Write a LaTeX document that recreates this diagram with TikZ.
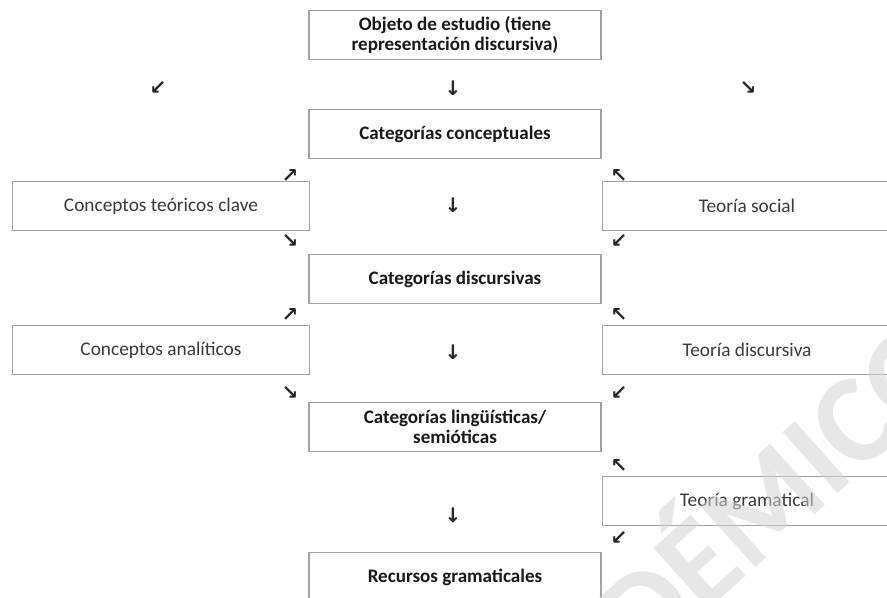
\documentclass[tikz,border=0pt]{standalone}
\usepackage{fontspec}
\setmainfont{Carlito}
\newfontfamily\arrowfont{DejaVu Sans}
\definecolor{boxgray}{HTML}{A3A3A3}
\definecolor{inkgray}{HTML}{3A3A3A}
\definecolor{markgray}{HTML}{D4D4D4}

\begin{document}
\begin{tikzpicture}[x=0.75pt,y=-0.75pt,
  centre/.style={draw=boxgray, line width=1.1pt, fill=white,
    minimum width=219pt, minimum height=37pt, inner sep=0pt,
    align=center, text=black!90,
    font=\bfseries\fontsize{14.3}{15.5}\selectfont},
  side/.style={draw=boxgray, line width=1.1pt, fill=white,
    minimum width=223pt, minimum height=37pt, inner sep=0pt,
    text=inkgray, font=\fontsize{14.5}{15.5}\selectfont},
  glyph/.style={inner sep=0pt, text=black!85,
    font=\arrowfont\bfseries\fontsize{15}{15}\selectfont}]
   % page
   \clip (0,0) rectangle (887,598);
   \useasboundingbox (0,0) rectangle (887,598);
   \fill[white] (0,0) rectangle (887,598);

   % central column
   \node[centre] (obj)  at (455,35)  {Objeto de estudio (tiene\\representación discursiva)};
   \node[centre] (conc) at (455,134) {Categorías conceptuales};
   \node[centre] (disc) at (455,279) {Categorías discursivas};
   \node[centre] (ling) at (455,427) {Categorías lingüísticas/\\semióticas};
   \node[centre] (rec)  at (455,577) {Recursos gramaticales};

   % left column
   \node[side] (ctc) at (161,206) {Conceptos teóricos clave};
   \node[side] (can) at (161,350) {Conceptos analíticos};

   % right column
   \node[side, minimum width=217pt] (tsoc)  at (747,206) {Teoría social};
   \node[side, minimum width=217pt] (tdis)  at (747,350) {Teoría discursiva};
   \node[side, minimum width=217pt] (tgram) at (747,501) {Teoría gramatical};

   % arrows
   \node[glyph] (a1) at (158,88) {↙};
   \node[glyph] (a2) at (453,88) {↓};
   \node[glyph] (a3) at (748,88) {↘};
   \node[glyph] (b1) at (290,176) {↗};
   \node[glyph] (b2) at (619,176) {↖};
   \node[glyph] (b3) at (453,205) {↓};
   \node[glyph] (c1) at (290,241) {↘};
   \node[glyph] (c2) at (619,241) {↙};
   \node[glyph] (d1) at (290,315) {↗};
   \node[glyph] (d2) at (619,315) {↖};
   \node[glyph] (d3) at (453,352) {↓};
   \node[glyph] (e1) at (290,393) {↘};
   \node[glyph] (e2) at (619,393) {↙};
   \node[glyph] (f1) at (619,466) {↖};
   \node[glyph] (f2) at (453,515) {↓};
   \node[glyph] (f3) at (619,538) {↙};

   % watermark
   \node[rotate=42, anchor=base west, text=markgray, text opacity=0.55,
     font=\bfseries\fontsize{95}{95}\selectfont] (mark) at (478,818) {ACADÉMICO};
\end{tikzpicture}
\end{document}
